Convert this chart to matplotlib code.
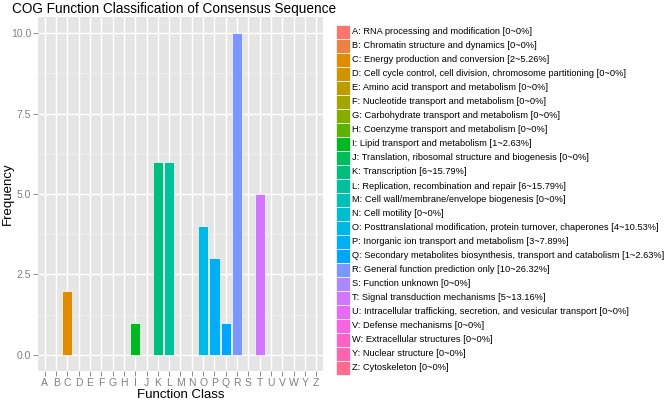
import numpy as np
import matplotlib
matplotlib.use("Agg")
import matplotlib.pyplot as plt
from matplotlib.patches import Rectangle

plt.rcParams['font.family'] = ['Liberation Sans', 'DejaVu Sans']

# COG classes and counts
classes = ['A', 'B', 'C', 'D', 'E', 'F', 'G', 'H', 'I', 'J', 'K', 'L', 'M',
           'N', 'O', 'P', 'Q', 'R', 'S', 'T', 'U', 'V', 'W', 'Y', 'Z']
counts = [0, 0, 2, 0, 0, 0, 0, 0, 1, 0, 6, 6, 0,
          0, 4, 3, 1, 10, 0, 5, 0, 0, 0, 0, 0]
percents = ['0', '0', '5.26', '0', '0', '0', '0', '0', '2.63', '0', '15.79', '15.79', '0',
            '0', '10.53', '7.89', '2.63', '26.32', '0', '13.16', '0', '0', '0', '0', '0']
descriptions = [
    'RNA processing and modification',
    'Chromatin structure and dynamics',
    'Energy production and conversion',
    'Cell cycle control, cell division, chromosome partitioning',
    'Amino acid transport and metabolism',
    'Nucleotide transport and metabolism',
    'Carbohydrate transport and metabolism',
    'Coenzyme transport and metabolism',
    'Lipid transport and metabolism',
    'Translation, ribosomal structure and biogenesis',
    'Transcription',
    'Replication, recombination and repair',
    'Cell wall/membrane/envelope biogenesis',
    'Cell motility',
    'Posttranslational modification, protein turnover, chaperones',
    'Inorganic ion transport and metabolism',
    'Secondary metabolites biosynthesis, transport and catabolism',
    'General function prediction only',
    'Function unknown',
    'Signal transduction mechanisms',
    'Intracellular trafficking, secretion, and vesicular transport',
    'Defense mechanisms',
    'Extracellular structures',
    'Nuclear structure',
    'Cytoskeleton',
]
y_ticks = [0.0, 2.5, 5.0, 7.5, 10.0]


def hcl_to_hex(h, c=100, l=65):
    # polar LUV -> sRGB, same as R's hcl()
    wu, wv = 0.1978398, 0.4683363
    u = c * np.cos(np.radians(h))
    v = c * np.sin(np.radians(h))
    Y = 100 * ((l + 16) / 116) ** 3
    up = u / (13 * l) + wu
    vp = v / (13 * l) + wv
    X = 9.0 * Y * up / (4 * vp)
    Z = -X / 3 - 5 * Y + 3 * Y / vp
    xyz = np.array([X, Y, Z]) / 100
    m = np.array([[3.240479, -1.537150, -0.498535],
                  [-0.969256, 1.875992, 0.041556],
                  [0.055648, -0.204043, 1.057311]])
    rgb = m @ xyz
    rgb = np.where(rgb > 0.00304, 1.055 * np.power(np.clip(rgb, 0, None), 1 / 2.4) - 0.055, 12.92 * rgb)
    rgb = np.clip(rgb, 0, 1)
    return '#%02x%02x%02x' % tuple(int(round(x * 255)) for x in rgb)


n = len(classes)
hues = np.linspace(15, 375, n + 1)[:-1]
colors = [hcl_to_hex(h) for h in hues]

W, H = 669, 400
fig = plt.figure(figsize=(W / 100, H / 100), dpi=100)
ax = fig.add_axes([38 / W, 29 / H, 285 / W, (371 - 17) / H])
ax.set_facecolor('#e5e5e5')

x = np.arange(n)
ax.set_axisbelow(True)
ax.set_yticks(y_ticks)
ax.set_yticks([1.25, 3.75, 6.25, 8.75], minor=True)
ax.grid(True, which='minor', axis='y', color='#f2f2f2', linewidth=0.5)
ax.grid(True, which='major', axis='both', color='white', linewidth=1.0)
ax.bar(x, counts, width=0.9, color=colors, edgecolor='white', linewidth=0.5)

ax.set_xlim(-0.6, n - 0.4)
ax.set_ylim(-0.5, 10.5)
ax.set_xticks(x)
ax.set_xticklabels(classes)
ax.set_yticklabels(['%.1f' % t for t in y_ticks])
for s in ax.spines.values():
    s.set_visible(False)
ax.tick_params(axis='both', which='major', colors='#7f7f7f', labelcolor='#7f7f7f',
               labelsize=7.5, length=3.5, width=0.6, pad=1.5)
ax.tick_params(axis='both', which='minor', length=0)
ax.set_xlabel('Function Class', fontsize=9.5, labelpad=1)
ax.set_ylabel('Frequency', fontsize=9.5)
ax.yaxis.set_label_coords(-24 / 285, 0.5)
ax.set_title('COG Function Classification of Consensus Sequence', fontsize=9.8, loc='left',
             x=-26 / 285, pad=3)

# legend drawn by hand, ggplot style
for i in range(n):
    yc = 32 + i * 14
    fig.patches.append(Rectangle((336 / W, 1 - (yc + 7) / H), 14 / W, 14 / H,
                                 transform=fig.transFigure, facecolor=colors[i],
                                 edgecolor='white', linewidth=0.5))
    label = '%s: %s [%d~%s%%]' % (classes[i], descriptions[i], counts[i], percents[i])
    fig.text(352 / W, 1 - yc / H, label, fontsize=6.7, va='center', ha='left')

fig.savefig('out.png', dpi=100)
